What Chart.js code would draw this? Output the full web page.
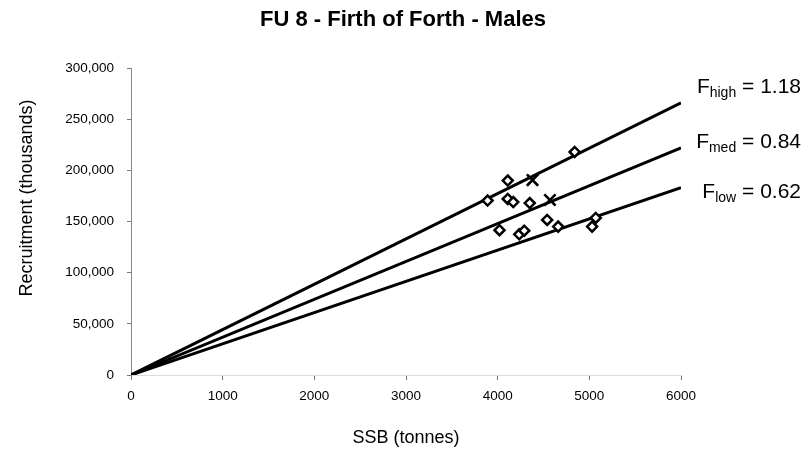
<!DOCTYPE html>
<html>
<head>
<meta charset="utf-8">
<script src="https://cdn.jsdelivr.net/npm/chart.js@4/dist/chart.umd.min.js"></script>
<style>
  html, body { margin: 0; padding: 0; background: #fff; }
  #wrap { width: 806px; height: 455px; }
</style>
</head>
<body>
<div id="wrap"><canvas id="chart" width="806" height="455"></canvas></div>
<script>
// observed stock-recruit pairs (SSB in tonnes, recruitment in thousands)
const ssbObs = [4840, 4110, 3890, 4110, 4170, 4350, 4020, 4235, 4290, 4540, 4660, 5070, 5030]
const recObs = [218000, 190000, 170500, 172000, 169000, 168000, 141500, 137500, 141000, 151500, 145000, 153500, 145000]

// the two points marked with a cross
const ssbCross = [4380, 4570]
const recCross = [190500, 171000]

// replacement lines, through the origin
const fNames = ['high', 'med', 'low']
const fValues = [1.18, 0.84, 0.62]
const lineSsb = [0, 6000]
const lineRec = [
    [0, 266000],
    [0, 222000],
    [0, 183000],
]

const xTicks = [0, 1000, 2000, 3000, 4000, 5000, 6000]
const yTicks = [0, 50000, 100000, 150000, 200000, 250000, 300000]

const yTitle = 'Recruitment (thousands)'

const FONT = "'Liberation Sans', Arial, sans-serif"

const lineSets = fNames.map((n, i) => ({
    label: 'F' + n,
    data: lineSsb.map((x, j) => ({ x: x, y: lineRec[i][j] })),
    showLine: true,
    borderColor: '#000',
    borderWidth: 3,
    pointRadius: 0,
    order: 2,
}))

// F labels at the right end of the lines, and the y title (sits above centre in the original)
const labelPlugin = {
    id: 'fLabels',
    afterDraw(chart) {
        const ctx = chart.ctx
        const baselines = [93, 148, 198]
        const right = 801
        ctx.save()
        ctx.fillStyle = '#000'
        ctx.textBaseline = 'alphabetic'
        fNames.forEach((n, i) => {
            const main = '21px ' + FONT
            const sub = '14px ' + FONT
            const rest = ' = ' + fValues[i].toFixed(2)
            ctx.font = main
            const wF = ctx.measureText('F').width
            const wRest = ctx.measureText(rest).width
            ctx.font = sub
            const wSub = ctx.measureText(n).width
            let x = right - wRest - wSub - wF
            const y = baselines[i]
            ctx.font = main
            ctx.fillText('F', x, y)
            x += wF
            ctx.font = sub
            ctx.fillText(n, x, y + 4)
            x += wSub
            ctx.font = main
            ctx.fillText(rest, x, y)
        })

        ctx.translate(27, 198)
        ctx.rotate(-Math.PI / 2)
        ctx.font = '18px ' + FONT
        ctx.textAlign = 'center'
        ctx.textBaseline = 'middle'
        ctx.fillText(yTitle, 0, 0)
        ctx.restore()
    }
}

new Chart(document.getElementById('chart'), {
    type: 'scatter',
    data: {
        datasets: [
            ...lineSets,
            {
                label: 'observed',
                data: ssbObs.map((x, i) => ({ x: x, y: recObs[i] })),
                pointStyle: 'rectRot',
                pointRadius: 5,
                borderColor: '#000',
                backgroundColor: '#fff',
                borderWidth: 2.5,
                order: 1,
            },
            {
                label: 'cross',
                data: ssbCross.map((x, i) => ({ x: x, y: recCross[i] })),
                pointStyle: 'crossRot',
                pointRadius: 8,
                borderColor: '#000',
                borderWidth: 2.6,
                order: 1,
            },
        ]
    },
    options: {
        responsive: false,
        animation: false,
        layout: { padding: 0 },
        plugins: {
            legend: { display: false },
            tooltip: { enabled: false },
            title: {
                display: true,
                text: 'FU 8 - Firth of Forth - Males',
                color: '#000',
                font: { family: FONT, size: 22, weight: 'bold' },
                padding: { top: 7, bottom: 34.6 },
            },
        },
        scales: {
            x: {
                type: 'linear',
                min: 0,
                max: 6000,
                afterBuildTicks: (s) => { s.ticks = xTicks.map(v => ({ value: v })) },
                afterFit: (s) => { s.height = 80 },
                ticks: {
                    color: '#000',
                    font: { family: FONT, size: 13.5 },
                    padding: 8,
                    maxRotation: 0,
                    callback: (v) => v.toString(),
                },
                grid: { display: true, drawOnChartArea: false, drawTicks: true, tickLength: 5, color: '#777' },
                border: { display: true, color: '#ddd', width: 1 },
                title: {
                    display: true,
                    text: 'SSB (tonnes)',
                    color: '#000',
                    font: { family: FONT, size: 18 },
                    padding: { top: 0, bottom: 6 },
                },
            },
            y: {
                type: 'linear',
                min: 0,
                max: 300000,
                afterBuildTicks: (s) => { s.ticks = yTicks.map(v => ({ value: v })) },
                afterFit: (s) => { s.width = 131 },
                ticks: {
                    color: '#000',
                    font: { family: FONT, size: 13.5 },
                    padding: 13,
                    callback: (v) => v.toLocaleString('en-US'),
                },
                grid: { display: true, drawOnChartArea: false, drawTicks: true, tickLength: 4, color: '#777' },
                border: { display: true, color: '#888', width: 1 },
                title: { display: false },
            },
            // empty right-hand strip that holds the F labels
            yRight: {
                type: 'linear',
                position: 'right',
                min: 0,
                max: 300000,
                afterFit: (s) => { s.width = 125 },
                ticks: { display: false },
                grid: { display: false },
                border: { display: false },
            },
        },
    },
    plugins: [labelPlugin],
});
</script>
</body>
</html>
